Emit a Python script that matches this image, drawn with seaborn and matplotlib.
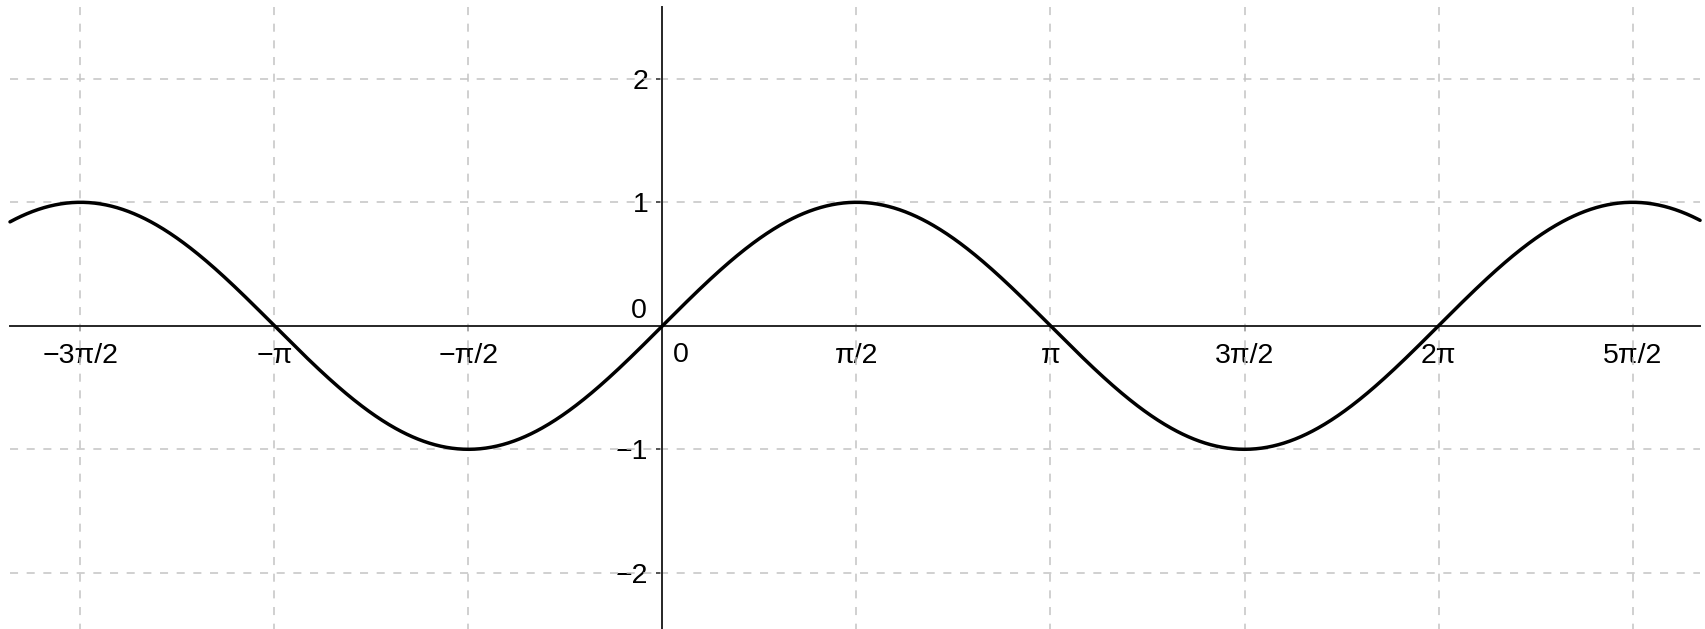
import numpy as np
import pandas as pd
import matplotlib
matplotlib.use("Agg")
import matplotlib.pyplot as plt
import seaborn as sns

# Tick positions (in multiples of pi/2) and their labels
x_tick_halfpi = [-3, -2, -1, 1, 2, 3, 4, 5]
x_tick_labels = ["−3π/2", "−π", "−π/2", "π/2", "π", "3π/2", "2π", "5π/2"]
y_tick_values = [-2, -1, 1, 2]
y_tick_labels = ["−2", "−1", "1", "2"]

# Visible window, drawn extent of the axes and of the graph of sin(x)
x_view = (-5.364, 8.449)
y_view = (-2.455, 2.638)
x_domain = (-5.283, 8.401)
y_axis_top = 2.582

x = np.linspace(x_domain[0], x_domain[1], 1500)
df = pd.DataFrame({"x": x, "y": np.sin(x)})

sns.set_theme(style="white")
plt.rcParams["font.family"] = ["Liberation Sans", "DejaVu Sans"]
plt.rcParams["lines.scale_dashes"] = False

label_size = 20.5

fig = plt.figure(figsize=(17.06, 6.29), dpi=100)
ax = fig.add_axes([0, 0, 1, 1])
ax.set_xlim(x_view)
ax.set_ylim(y_view)

# Dashed grid at every labelled tick
xt = np.array(x_tick_halfpi) * np.pi / 2
grid_kw = dict(colors="#c4c4c4", linewidth=1.1, linestyles=[(0, (5.8, 6.2))], zorder=1)
ax.vlines(xt, y_axis_top, y_view[0], **grid_kw)
ax.hlines(y_tick_values, x_domain[0], x_domain[1], **grid_kw)

# Graph of the function
sns.lineplot(data=df, x="x", y="y", color="black", linewidth=2.5, ax=ax,
             sort=False, estimator=None, zorder=5)
ax.set_xlabel("")
ax.set_ylabel("")

# Axes through the origin
axis_color = "#262626"
for side in ["top", "right"]:
    ax.spines[side].set_visible(False)
ax.spines["left"].set_position(("data", 0))
ax.spines["bottom"].set_position(("data", 0))
ax.spines["bottom"].set_bounds(*x_domain)
ax.spines["left"].set_bounds(y_view[0], y_axis_top)
for side in ["left", "bottom"]:
    ax.spines[side].set_color(axis_color)
    ax.spines[side].set_linewidth(1.4)
    ax.spines[side].set_zorder(3)

ax.set_xticks(xt, x_tick_labels)
ax.set_yticks(y_tick_values, y_tick_labels)
ax.tick_params(axis="x", bottom=True, direction="out", length=3.6, width=1.1,
               color=axis_color, labelcolor="black", labelsize=label_size, pad=8.5)
ax.tick_params(axis="y", left=True, direction="out", length=4.3, width=1.1,
               color=axis_color, labelcolor="black", labelsize=label_size, pad=6)

# Zero labels on both axes
ax.annotate("0", xy=(0, 0), xytext=(-11.2, 11.0), textcoords="offset points",
            ha="right", va="center", fontsize=label_size, color="black")
ax.annotate("0", xy=(0, 0), xytext=(7.6, -12.0), textcoords="offset points",
            ha="left", va="top", fontsize=label_size, color="black")

fig.savefig("out.png", dpi=100, facecolor="white")
